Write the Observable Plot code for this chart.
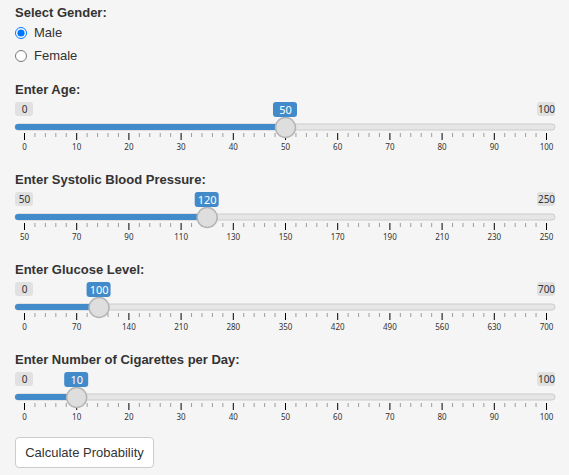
<!DOCTYPE html>
<html><head><meta charset="utf-8">
<script src="https://cdn.jsdelivr.net/npm/d3@7"></script>
<script src="https://cdn.jsdelivr.net/npm/@observablehq/plot@0.6"></script>
<style>
body{margin:0;background:#f5f5f5;font-family:"Liberation Sans",Arial,sans-serif;color:#333;font-size:13px;width:569px;overflow:hidden}
.lab{font-weight:bold;margin:0 0 0 15px;height:18px;line-height:18px}
.radio{margin-left:15px;height:23px;display:flex;align-items:center}
.radio input{margin:0 7px 0 0;width:12px;height:12px}
button{margin:10px 0 0 15px;font:13px "Liberation Sans",Arial,sans-serif;color:#333;background:#fff;border:1px solid #ccc;border-radius:4px;width:139px;height:31px}
svg{display:block}
</style></head><body>
<div style="height:4px"></div>
<div class="lab">Select Gender:</div>
<div class="radio" style="margin-top:-1px"><input type="radio" name="g" checked>Male</div>
<div class="radio"><input type="radio" name="g">Female</div>
<div id="sliders"></div>
<button>Calculate Probability</button>
<script>
const labels = ["Enter Age:", "Enter Systolic Blood Pressure:", "Enter Glucose Level:", "Enter Number of Cigarettes per Day:"];
const mins = [0, 50, 0, 0];
const maxs = [100, 250, 700, 100];
const values = [50, 120, 100, 10];
const majorSteps = [10, 20, 70, 10];

const root = d3.select("#sliders");
labels.forEach((lab, i) => {
  const lo = mins[i], hi = maxs[i], v = values[i], step = majorSteps[i];
  const major = d3.range(lo, hi + step / 2, step);
  const minor = d3.range(lo, hi + 1e-9, step / 5).filter((d, k) => k % 5 != 0);
  root.append("div").attr("class", "lab")
    .style("margin-top", i == 0 ? "14px" : "14px").text(lab);
  const chart = Plot.plot({
    width: 569, height: 58,
    marginLeft: 24, marginRight: 23, marginTop: 0, marginBottom: 0,
    x: {domain: [lo, hi], axis: null},
    y: {domain: [0, 58], range: [0, 58], axis: null},
    marks: [
      Plot.rect([lo, hi], {x1: d => d, x2: d => d, y1: 3, y2: 17, insetLeft: -9, insetRight: -9, fill: "#e1e1e1", rx: 3}),
      Plot.text([lo, hi], {x: d => d, y: 10, text: d => String(d), fill: "#333", fontSize: 10}),
      Plot.rect([0], {x1: lo, x2: hi, y1: 25, y2: 31, insetLeft: -9, insetRight: -9, fill: "#e6e6e6", stroke: "#ccc", rx: 3}),
      Plot.rect([0], {x1: lo, x2: v, y1: 25, y2: 31, insetLeft: -9, fill: "#428bca", rx: 3}),
      Plot.ruleX(major, {y1: 34, y2: 41, stroke: "#000", strokeWidth: 1}),
      Plot.ruleX(minor, {y1: 34, y2: 38, stroke: "#777", strokeWidth: 0.7}),
      Plot.text(major, {x: d => d, y: 48, text: d => String(d), fill: "#333", fontSize: 8}),
      Plot.dot([v], {x: d => d, y: 28, r: 10, fill: "#dedede", stroke: "#b5b5b5"}),
      Plot.rect([v], {x1: d => d, x2: d => d, y1: 3, y2: 18, insetLeft: -12, insetRight: -12, fill: "#428bca", rx: 3}),
      Plot.text([v], {x: d => d, y: 10.5, text: d => String(d), fill: "#fff", fontSize: 11})
    ]
  });
  root.append(() => chart);
});
</script>
</body></html>
